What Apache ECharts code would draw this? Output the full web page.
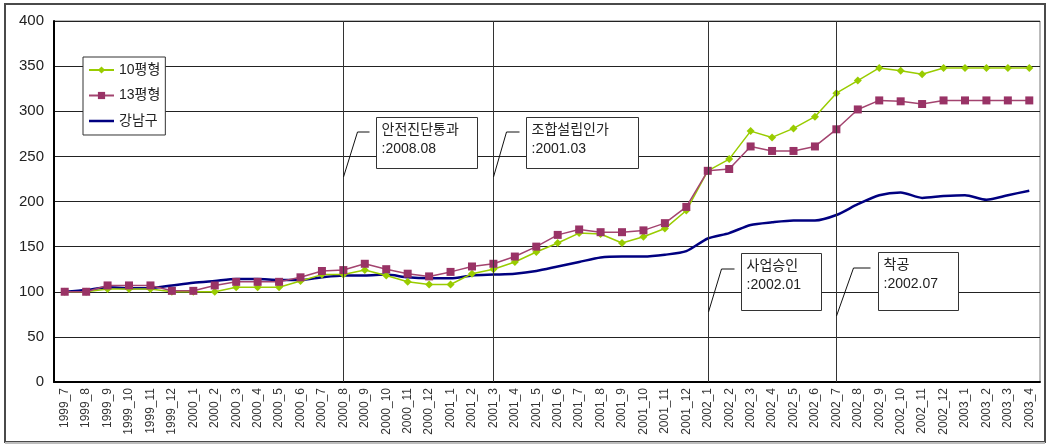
<!DOCTYPE html>
<html>
<head>
<meta charset="utf-8">
<script src="https://cdn.jsdelivr.net/npm/echarts@6/dist/echarts.min.js"></script>
<style>
  html, body { margin: 0; padding: 0; background: #fff; }
  #chart { width: 1048px; height: 445px; }
</style>
</head>
<body>
<div id="chart"></div>
<script>
// Monthly categories, 1999_7 .. 2003_4
const categories = [
  '1999_7','1999_8','1999_9','1999_10','1999_11','1999_12',
  '2000_1','2000_2','2000_3','2000_4','2000_5','2000_6','2000_7','2000_8','2000_9','2000_10','2000_11','2000_12',
  '2001_1','2001_2','2001_3','2001_4','2001_5','2001_6','2001_7','2001_8','2001_9','2001_10','2001_11','2001_12',
  '2002_1','2002_2','2002_3','2002_4','2002_5','2002_6','2002_7','2002_8','2002_9','2002_10','2002_11','2002_12',
  '2003_1','2003_2','2003_3','2003_4'
];

// Price index, 10평형
const size10 = [
  100,100,103,103,103,100,
  100,100,105,105,105,112,119,119,124,118,111,108,
  108,120,125,133,144,154,165,164,154,161,170,190,
  234,247,278,271,281,294,320,334,348,345,341,348,
  348,348,348,348
];

// Price index, 13평형
const size13 = [
  100,100,107,107,107,101,
  101,107,111,111,111,116,123,124,131,125,120,117,
  122,128,131,139,150,163,169,166,166,168,176,194,
  234,236,261,256,256,261,280,302,312,311,308,312,
  312,312,312,312
];

// Price index, 강남구 average
const gangnam = [
  100,102,105,104,104,107,
  110,112,114,114,113,113,116,118,118,119,116,115,
  115,118,119,120,123,128,133,138,139,139,141,145,
  159,165,174,177,179,179,185,197,207,210,204,206,
  207,202,207,212
];

const yTicks = { min: 0, max: 400, interval: 50 };

// Milestones marked on the timeline
const milestoneMonths = ['2000_8', '2001_3', '2002_1', '2002_7'];
const milestoneNotes = [
  { cat: '2000_8', value: 227, lines: ['안전진단통과', ':2008.08'] },
  { cat: '2001_3', value: 227, lines: ['조합설립인가', ':2001.03'] },
  { cat: '2002_1', value: 78,  lines: ['사업승인', ':2002.01'] },
  { cat: '2002_7', value: 73,  lines: ['착공', ':2002.07'] }
];

// Callout geometry (pixels, relative to the anchor point on the milestone line)
const calloutLayout = [
  { lx: 14, ly: -45, hook: 12, bx: 33, by: -60, w: 101, h: 51 },
  { lx: 13, ly: -45, hook: 13, bx: 33, by: -60, w: 112, h: 51 },
  { lx: 13, ly: -43, hook: 13, bx: 33, by: -59, w: 80,  h: 57 },
  { lx: 17, ly: -48, hook: 17, bx: 42, by: -64, w: 80,  h: 58 }
];

const FONT = '"Liberation Sans", "Noto Sans CJK KR", sans-serif';

// Plain line swatch for the smoothed series (tiny corner dots keep the 25x9 box)
const LINE_ICON = 'path://M0,0L0.01,0L0.01,0.01Z M0,3.3L25,3.3L25,5.8L0,5.8Z M24.99,9L25,9L25,8.99Z';

const chart = echarts.init(document.getElementById('chart'), null, { renderer: 'canvas' });

chart.setOption({
  animation: false,
  backgroundColor: '#fff',
  textStyle: { fontFamily: FONT },
  grid: {
    left: 54, right: 8, top: 21, bottom: 63,
    show: true, borderColor: '#777', borderWidth: 1
  },
  legend: {
    orient: 'vertical',
    left: 83, top: 57,
    padding: [6, 5, 7, 5],
    itemWidth: 25, itemHeight: 9, itemGap: 11.5,
    backgroundColor: '#fff',
    borderColor: '#333', borderWidth: 1,
    textStyle: { fontFamily: FONT, fontSize: 14, color: '#222' },
    data: [
      { name: '10평형' },
      { name: '13평형' },
      { name: '강남구', icon: LINE_ICON }
    ]
  },
  xAxis: {
    type: 'category',
    data: categories,
    boundaryGap: true,
    axisLine: { lineStyle: { color: '#000', width: 2 } },
    axisTick: { inside: true, length: 5, lineStyle: { color: '#000' } },
    axisLabel: {
      interval: 0, rotate: 90, margin: 6,
      fontFamily: FONT, fontSize: 12, color: '#333'
    },
    splitLine: { show: false }
  },
  yAxis: {
    type: 'value',
    min: yTicks.min, max: yTicks.max, interval: yTicks.interval,
    axisLine: { show: true, lineStyle: { color: '#000', width: 2 } },
    axisTick: { show: false },
    axisLabel: { margin: 10, fontFamily: FONT, fontSize: 15, color: '#222' },
    splitLine: { lineStyle: { color: '#222', width: 1 } }
  },
  series: [
    {
      name: '10평형',
      type: 'line',
      data: size10,
      symbol: 'diamond', symbolSize: 8,
      itemStyle: { color: '#99cc00' },
      lineStyle: { color: '#99cc00', width: 1.5 },
      z: 3,
      markLine: {
        silent: true,
        symbol: 'none',
        label: { show: false },
        lineStyle: { type: 'solid', color: '#333', width: 1 },
        data: milestoneMonths.map(m => ({ xAxis: m }))
      }
    },
    {
      name: '13평형',
      type: 'line',
      data: size13,
      symbol: 'rect', symbolSize: 8,
      itemStyle: { color: '#993366' },
      lineStyle: { color: '#a3446f', width: 1.5 },
      z: 4
    },
    {
      name: '강남구',
      type: 'line',
      data: gangnam,
      symbol: 'none',
      smooth: 0.25,
      itemStyle: { color: '#000080' },
      lineStyle: { color: '#000080', width: 2.5 },
      z: 2
    }
  ]
});

// Callouts anchored on the milestone lines, plus the outer frame
const graphics = [
  {
    type: 'rect', z: 200, silent: true,
    shape: { x: 5, y: 4, width: 1040, height: 438 },
    style: { fill: null, stroke: '#4a4a4a', lineWidth: 2 }
  },
  {
    type: 'line', z: 201, silent: true,
    shape: { x1: 5, y1: 443, x2: 1045, y2: 443 },
    style: { stroke: '#bdbdbd', lineWidth: 2 }
  }
];

milestoneNotes.forEach((note, i) => {
  const L = calloutLayout[i];
  const p = chart.convertToPixel({ xAxisIndex: 0, yAxisIndex: 0 }, [note.cat, note.value]);
  const ax = Math.round(p[0]) + 0.5, ay = Math.round(p[1]);
  graphics.push({
    type: 'polyline', z: 150, silent: true,
    shape: { points: [[ax, ay], [ax + L.lx, ay + L.ly], [ax + L.lx + L.hook, ay + L.ly]] },
    style: { fill: null, stroke: '#111', lineWidth: 1 }
  });
  graphics.push({
    type: 'rect', z: 150, silent: true,
    shape: { x: ax + L.bx, y: ay + L.by + 0.5, width: L.w, height: L.h },
    style: { fill: '#fff', stroke: '#333', lineWidth: 1 }
  });
  graphics.push({
    type: 'text', z: 151, silent: true,
    x: ax + L.bx + 5, y: ay + L.by + 4,
    style: {
      text: note.lines.join('\n'),
      font: '14px ' + FONT,
      lineHeight: 19,
      fill: '#222',
      align: 'left', verticalAlign: 'top'
    }
  });
});

chart.setOption({ graphic: graphics });
</script>
</body>
</html>
